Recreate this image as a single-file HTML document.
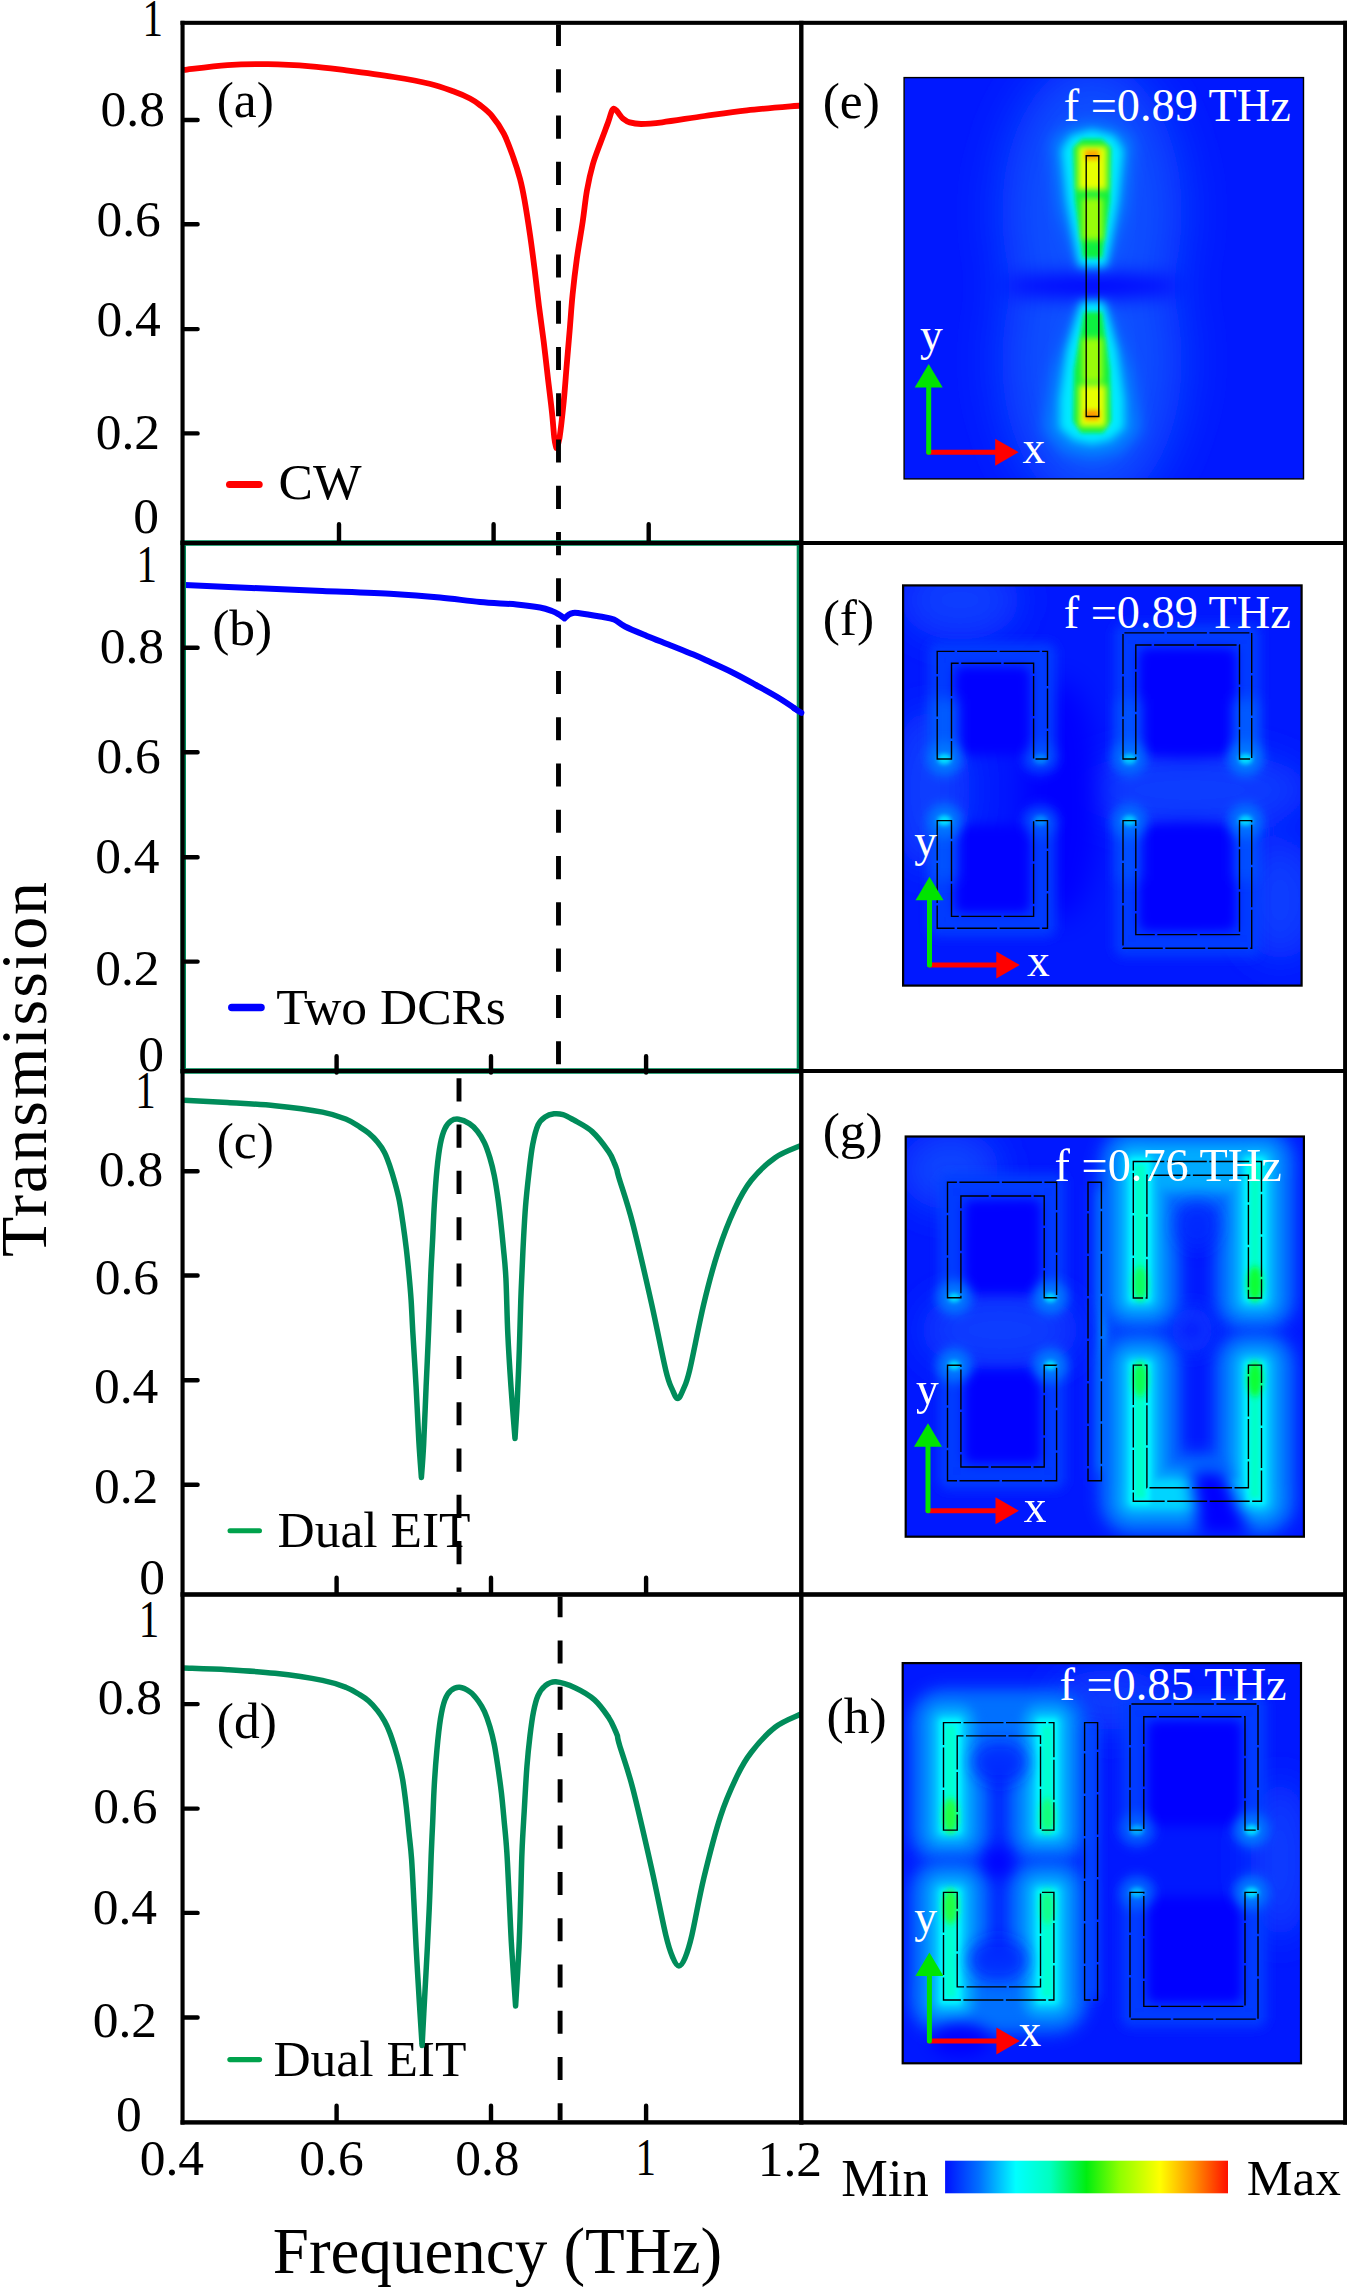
<!DOCTYPE html><html><head><meta charset="utf-8"><style>html,body{margin:0;padding:0;background:#fff;overflow:hidden}svg{display:block}</style></head><body>
<svg width="1347" height="2287" viewBox="0 0 1347 2287" font-family="Liberation Serif">
<rect width="1347" height="2287" fill="#fff"/>
<defs>
<filter id="be1" filterUnits="userSpaceOnUse" x="902.1" y="75.6" width="403.4" height="405.3"><feGaussianBlur stdDeviation="1"/></filter>
<filter id="be2" filterUnits="userSpaceOnUse" x="902.1" y="75.6" width="403.4" height="405.3"><feGaussianBlur stdDeviation="2"/></filter>
<filter id="be3" filterUnits="userSpaceOnUse" x="902.1" y="75.6" width="403.4" height="405.3"><feGaussianBlur stdDeviation="3"/></filter>
<filter id="be4" filterUnits="userSpaceOnUse" x="902.1" y="75.6" width="403.4" height="405.3"><feGaussianBlur stdDeviation="4"/></filter>
<filter id="be5" filterUnits="userSpaceOnUse" x="902.1" y="75.6" width="403.4" height="405.3"><feGaussianBlur stdDeviation="5"/></filter>
<filter id="be6" filterUnits="userSpaceOnUse" x="902.1" y="75.6" width="403.4" height="405.3"><feGaussianBlur stdDeviation="6"/></filter>
<filter id="be7" filterUnits="userSpaceOnUse" x="902.1" y="75.6" width="403.4" height="405.3"><feGaussianBlur stdDeviation="7"/></filter>
<filter id="be8" filterUnits="userSpaceOnUse" x="902.1" y="75.6" width="403.4" height="405.3"><feGaussianBlur stdDeviation="8"/></filter>
<filter id="be9" filterUnits="userSpaceOnUse" x="902.1" y="75.6" width="403.4" height="405.3"><feGaussianBlur stdDeviation="9"/></filter>
<filter id="be10" filterUnits="userSpaceOnUse" x="902.1" y="75.6" width="403.4" height="405.3"><feGaussianBlur stdDeviation="10"/></filter>
<filter id="be11" filterUnits="userSpaceOnUse" x="902.1" y="75.6" width="403.4" height="405.3"><feGaussianBlur stdDeviation="11"/></filter>
<filter id="be12" filterUnits="userSpaceOnUse" x="902.1" y="75.6" width="403.4" height="405.3"><feGaussianBlur stdDeviation="12"/></filter>
<filter id="be13" filterUnits="userSpaceOnUse" x="902.1" y="75.6" width="403.4" height="405.3"><feGaussianBlur stdDeviation="13"/></filter>
<filter id="be14" filterUnits="userSpaceOnUse" x="902.1" y="75.6" width="403.4" height="405.3"><feGaussianBlur stdDeviation="14"/></filter>
<filter id="be15" filterUnits="userSpaceOnUse" x="902.1" y="75.6" width="403.4" height="405.3"><feGaussianBlur stdDeviation="15"/></filter>
<filter id="be16" filterUnits="userSpaceOnUse" x="902.1" y="75.6" width="403.4" height="405.3"><feGaussianBlur stdDeviation="16"/></filter>
<filter id="be17" filterUnits="userSpaceOnUse" x="902.1" y="75.6" width="403.4" height="405.3"><feGaussianBlur stdDeviation="17"/></filter>
<filter id="be18" filterUnits="userSpaceOnUse" x="902.1" y="75.6" width="403.4" height="405.3"><feGaussianBlur stdDeviation="18"/></filter>
<filter id="be19" filterUnits="userSpaceOnUse" x="902.1" y="75.6" width="403.4" height="405.3"><feGaussianBlur stdDeviation="19"/></filter>
<filter id="be20" filterUnits="userSpaceOnUse" x="902.1" y="75.6" width="403.4" height="405.3"><feGaussianBlur stdDeviation="20"/></filter>
<filter id="be21" filterUnits="userSpaceOnUse" x="902.1" y="75.6" width="403.4" height="405.3"><feGaussianBlur stdDeviation="21"/></filter>
<filter id="be22" filterUnits="userSpaceOnUse" x="902.1" y="75.6" width="403.4" height="405.3"><feGaussianBlur stdDeviation="22"/></filter>
<filter id="be23" filterUnits="userSpaceOnUse" x="902.1" y="75.6" width="403.4" height="405.3"><feGaussianBlur stdDeviation="23"/></filter>
<filter id="be24" filterUnits="userSpaceOnUse" x="902.1" y="75.6" width="403.4" height="405.3"><feGaussianBlur stdDeviation="24"/></filter>
<filter id="be25" filterUnits="userSpaceOnUse" x="902.1" y="75.6" width="403.4" height="405.3"><feGaussianBlur stdDeviation="25"/></filter>
<filter id="be26" filterUnits="userSpaceOnUse" x="902.1" y="75.6" width="403.4" height="405.3"><feGaussianBlur stdDeviation="26"/></filter>
<filter id="be27" filterUnits="userSpaceOnUse" x="902.1" y="75.6" width="403.4" height="405.3"><feGaussianBlur stdDeviation="27"/></filter>
<filter id="be28" filterUnits="userSpaceOnUse" x="902.1" y="75.6" width="403.4" height="405.3"><feGaussianBlur stdDeviation="28"/></filter>
<filter id="be29" filterUnits="userSpaceOnUse" x="902.1" y="75.6" width="403.4" height="405.3"><feGaussianBlur stdDeviation="29"/></filter>
<filter id="be30" filterUnits="userSpaceOnUse" x="902.1" y="75.6" width="403.4" height="405.3"><feGaussianBlur stdDeviation="30"/></filter>
<filter id="bf1" filterUnits="userSpaceOnUse" x="901.1" y="583.4" width="402.5" height="404.2"><feGaussianBlur stdDeviation="1"/></filter>
<filter id="bf2" filterUnits="userSpaceOnUse" x="901.1" y="583.4" width="402.5" height="404.2"><feGaussianBlur stdDeviation="2"/></filter>
<filter id="bf3" filterUnits="userSpaceOnUse" x="901.1" y="583.4" width="402.5" height="404.2"><feGaussianBlur stdDeviation="3"/></filter>
<filter id="bf4" filterUnits="userSpaceOnUse" x="901.1" y="583.4" width="402.5" height="404.2"><feGaussianBlur stdDeviation="4"/></filter>
<filter id="bf5" filterUnits="userSpaceOnUse" x="901.1" y="583.4" width="402.5" height="404.2"><feGaussianBlur stdDeviation="5"/></filter>
<filter id="bf6" filterUnits="userSpaceOnUse" x="901.1" y="583.4" width="402.5" height="404.2"><feGaussianBlur stdDeviation="6"/></filter>
<filter id="bf7" filterUnits="userSpaceOnUse" x="901.1" y="583.4" width="402.5" height="404.2"><feGaussianBlur stdDeviation="7"/></filter>
<filter id="bf8" filterUnits="userSpaceOnUse" x="901.1" y="583.4" width="402.5" height="404.2"><feGaussianBlur stdDeviation="8"/></filter>
<filter id="bf9" filterUnits="userSpaceOnUse" x="901.1" y="583.4" width="402.5" height="404.2"><feGaussianBlur stdDeviation="9"/></filter>
<filter id="bf10" filterUnits="userSpaceOnUse" x="901.1" y="583.4" width="402.5" height="404.2"><feGaussianBlur stdDeviation="10"/></filter>
<filter id="bf11" filterUnits="userSpaceOnUse" x="901.1" y="583.4" width="402.5" height="404.2"><feGaussianBlur stdDeviation="11"/></filter>
<filter id="bf12" filterUnits="userSpaceOnUse" x="901.1" y="583.4" width="402.5" height="404.2"><feGaussianBlur stdDeviation="12"/></filter>
<filter id="bf13" filterUnits="userSpaceOnUse" x="901.1" y="583.4" width="402.5" height="404.2"><feGaussianBlur stdDeviation="13"/></filter>
<filter id="bf14" filterUnits="userSpaceOnUse" x="901.1" y="583.4" width="402.5" height="404.2"><feGaussianBlur stdDeviation="14"/></filter>
<filter id="bf15" filterUnits="userSpaceOnUse" x="901.1" y="583.4" width="402.5" height="404.2"><feGaussianBlur stdDeviation="15"/></filter>
<filter id="bf16" filterUnits="userSpaceOnUse" x="901.1" y="583.4" width="402.5" height="404.2"><feGaussianBlur stdDeviation="16"/></filter>
<filter id="bf17" filterUnits="userSpaceOnUse" x="901.1" y="583.4" width="402.5" height="404.2"><feGaussianBlur stdDeviation="17"/></filter>
<filter id="bf18" filterUnits="userSpaceOnUse" x="901.1" y="583.4" width="402.5" height="404.2"><feGaussianBlur stdDeviation="18"/></filter>
<filter id="bf19" filterUnits="userSpaceOnUse" x="901.1" y="583.4" width="402.5" height="404.2"><feGaussianBlur stdDeviation="19"/></filter>
<filter id="bf20" filterUnits="userSpaceOnUse" x="901.1" y="583.4" width="402.5" height="404.2"><feGaussianBlur stdDeviation="20"/></filter>
<filter id="bf21" filterUnits="userSpaceOnUse" x="901.1" y="583.4" width="402.5" height="404.2"><feGaussianBlur stdDeviation="21"/></filter>
<filter id="bf22" filterUnits="userSpaceOnUse" x="901.1" y="583.4" width="402.5" height="404.2"><feGaussianBlur stdDeviation="22"/></filter>
<filter id="bf23" filterUnits="userSpaceOnUse" x="901.1" y="583.4" width="402.5" height="404.2"><feGaussianBlur stdDeviation="23"/></filter>
<filter id="bf24" filterUnits="userSpaceOnUse" x="901.1" y="583.4" width="402.5" height="404.2"><feGaussianBlur stdDeviation="24"/></filter>
<filter id="bf25" filterUnits="userSpaceOnUse" x="901.1" y="583.4" width="402.5" height="404.2"><feGaussianBlur stdDeviation="25"/></filter>
<filter id="bf26" filterUnits="userSpaceOnUse" x="901.1" y="583.4" width="402.5" height="404.2"><feGaussianBlur stdDeviation="26"/></filter>
<filter id="bf27" filterUnits="userSpaceOnUse" x="901.1" y="583.4" width="402.5" height="404.2"><feGaussianBlur stdDeviation="27"/></filter>
<filter id="bf28" filterUnits="userSpaceOnUse" x="901.1" y="583.4" width="402.5" height="404.2"><feGaussianBlur stdDeviation="28"/></filter>
<filter id="bf29" filterUnits="userSpaceOnUse" x="901.1" y="583.4" width="402.5" height="404.2"><feGaussianBlur stdDeviation="29"/></filter>
<filter id="bf30" filterUnits="userSpaceOnUse" x="901.1" y="583.4" width="402.5" height="404.2"><feGaussianBlur stdDeviation="30"/></filter>
<filter id="bg1" filterUnits="userSpaceOnUse" x="903.7" y="1134.5" width="402.2" height="404.2"><feGaussianBlur stdDeviation="1"/></filter>
<filter id="bg2" filterUnits="userSpaceOnUse" x="903.7" y="1134.5" width="402.2" height="404.2"><feGaussianBlur stdDeviation="2"/></filter>
<filter id="bg3" filterUnits="userSpaceOnUse" x="903.7" y="1134.5" width="402.2" height="404.2"><feGaussianBlur stdDeviation="3"/></filter>
<filter id="bg4" filterUnits="userSpaceOnUse" x="903.7" y="1134.5" width="402.2" height="404.2"><feGaussianBlur stdDeviation="4"/></filter>
<filter id="bg5" filterUnits="userSpaceOnUse" x="903.7" y="1134.5" width="402.2" height="404.2"><feGaussianBlur stdDeviation="5"/></filter>
<filter id="bg6" filterUnits="userSpaceOnUse" x="903.7" y="1134.5" width="402.2" height="404.2"><feGaussianBlur stdDeviation="6"/></filter>
<filter id="bg7" filterUnits="userSpaceOnUse" x="903.7" y="1134.5" width="402.2" height="404.2"><feGaussianBlur stdDeviation="7"/></filter>
<filter id="bg8" filterUnits="userSpaceOnUse" x="903.7" y="1134.5" width="402.2" height="404.2"><feGaussianBlur stdDeviation="8"/></filter>
<filter id="bg9" filterUnits="userSpaceOnUse" x="903.7" y="1134.5" width="402.2" height="404.2"><feGaussianBlur stdDeviation="9"/></filter>
<filter id="bg10" filterUnits="userSpaceOnUse" x="903.7" y="1134.5" width="402.2" height="404.2"><feGaussianBlur stdDeviation="10"/></filter>
<filter id="bg11" filterUnits="userSpaceOnUse" x="903.7" y="1134.5" width="402.2" height="404.2"><feGaussianBlur stdDeviation="11"/></filter>
<filter id="bg12" filterUnits="userSpaceOnUse" x="903.7" y="1134.5" width="402.2" height="404.2"><feGaussianBlur stdDeviation="12"/></filter>
<filter id="bg13" filterUnits="userSpaceOnUse" x="903.7" y="1134.5" width="402.2" height="404.2"><feGaussianBlur stdDeviation="13"/></filter>
<filter id="bg14" filterUnits="userSpaceOnUse" x="903.7" y="1134.5" width="402.2" height="404.2"><feGaussianBlur stdDeviation="14"/></filter>
<filter id="bg15" filterUnits="userSpaceOnUse" x="903.7" y="1134.5" width="402.2" height="404.2"><feGaussianBlur stdDeviation="15"/></filter>
<filter id="bg16" filterUnits="userSpaceOnUse" x="903.7" y="1134.5" width="402.2" height="404.2"><feGaussianBlur stdDeviation="16"/></filter>
<filter id="bg17" filterUnits="userSpaceOnUse" x="903.7" y="1134.5" width="402.2" height="404.2"><feGaussianBlur stdDeviation="17"/></filter>
<filter id="bg18" filterUnits="userSpaceOnUse" x="903.7" y="1134.5" width="402.2" height="404.2"><feGaussianBlur stdDeviation="18"/></filter>
<filter id="bg19" filterUnits="userSpaceOnUse" x="903.7" y="1134.5" width="402.2" height="404.2"><feGaussianBlur stdDeviation="19"/></filter>
<filter id="bg20" filterUnits="userSpaceOnUse" x="903.7" y="1134.5" width="402.2" height="404.2"><feGaussianBlur stdDeviation="20"/></filter>
<filter id="bg21" filterUnits="userSpaceOnUse" x="903.7" y="1134.5" width="402.2" height="404.2"><feGaussianBlur stdDeviation="21"/></filter>
<filter id="bg22" filterUnits="userSpaceOnUse" x="903.7" y="1134.5" width="402.2" height="404.2"><feGaussianBlur stdDeviation="22"/></filter>
<filter id="bg23" filterUnits="userSpaceOnUse" x="903.7" y="1134.5" width="402.2" height="404.2"><feGaussianBlur stdDeviation="23"/></filter>
<filter id="bg24" filterUnits="userSpaceOnUse" x="903.7" y="1134.5" width="402.2" height="404.2"><feGaussianBlur stdDeviation="24"/></filter>
<filter id="bg25" filterUnits="userSpaceOnUse" x="903.7" y="1134.5" width="402.2" height="404.2"><feGaussianBlur stdDeviation="25"/></filter>
<filter id="bg26" filterUnits="userSpaceOnUse" x="903.7" y="1134.5" width="402.2" height="404.2"><feGaussianBlur stdDeviation="26"/></filter>
<filter id="bg27" filterUnits="userSpaceOnUse" x="903.7" y="1134.5" width="402.2" height="404.2"><feGaussianBlur stdDeviation="27"/></filter>
<filter id="bg28" filterUnits="userSpaceOnUse" x="903.7" y="1134.5" width="402.2" height="404.2"><feGaussianBlur stdDeviation="28"/></filter>
<filter id="bg29" filterUnits="userSpaceOnUse" x="903.7" y="1134.5" width="402.2" height="404.2"><feGaussianBlur stdDeviation="29"/></filter>
<filter id="bg30" filterUnits="userSpaceOnUse" x="903.7" y="1134.5" width="402.2" height="404.2"><feGaussianBlur stdDeviation="30"/></filter>
<filter id="bh1" filterUnits="userSpaceOnUse" x="900.7" y="1661.1" width="402.3" height="404.2"><feGaussianBlur stdDeviation="1"/></filter>
<filter id="bh2" filterUnits="userSpaceOnUse" x="900.7" y="1661.1" width="402.3" height="404.2"><feGaussianBlur stdDeviation="2"/></filter>
<filter id="bh3" filterUnits="userSpaceOnUse" x="900.7" y="1661.1" width="402.3" height="404.2"><feGaussianBlur stdDeviation="3"/></filter>
<filter id="bh4" filterUnits="userSpaceOnUse" x="900.7" y="1661.1" width="402.3" height="404.2"><feGaussianBlur stdDeviation="4"/></filter>
<filter id="bh5" filterUnits="userSpaceOnUse" x="900.7" y="1661.1" width="402.3" height="404.2"><feGaussianBlur stdDeviation="5"/></filter>
<filter id="bh6" filterUnits="userSpaceOnUse" x="900.7" y="1661.1" width="402.3" height="404.2"><feGaussianBlur stdDeviation="6"/></filter>
<filter id="bh7" filterUnits="userSpaceOnUse" x="900.7" y="1661.1" width="402.3" height="404.2"><feGaussianBlur stdDeviation="7"/></filter>
<filter id="bh8" filterUnits="userSpaceOnUse" x="900.7" y="1661.1" width="402.3" height="404.2"><feGaussianBlur stdDeviation="8"/></filter>
<filter id="bh9" filterUnits="userSpaceOnUse" x="900.7" y="1661.1" width="402.3" height="404.2"><feGaussianBlur stdDeviation="9"/></filter>
<filter id="bh10" filterUnits="userSpaceOnUse" x="900.7" y="1661.1" width="402.3" height="404.2"><feGaussianBlur stdDeviation="10"/></filter>
<filter id="bh11" filterUnits="userSpaceOnUse" x="900.7" y="1661.1" width="402.3" height="404.2"><feGaussianBlur stdDeviation="11"/></filter>
<filter id="bh12" filterUnits="userSpaceOnUse" x="900.7" y="1661.1" width="402.3" height="404.2"><feGaussianBlur stdDeviation="12"/></filter>
<filter id="bh13" filterUnits="userSpaceOnUse" x="900.7" y="1661.1" width="402.3" height="404.2"><feGaussianBlur stdDeviation="13"/></filter>
<filter id="bh14" filterUnits="userSpaceOnUse" x="900.7" y="1661.1" width="402.3" height="404.2"><feGaussianBlur stdDeviation="14"/></filter>
<filter id="bh15" filterUnits="userSpaceOnUse" x="900.7" y="1661.1" width="402.3" height="404.2"><feGaussianBlur stdDeviation="15"/></filter>
<filter id="bh16" filterUnits="userSpaceOnUse" x="900.7" y="1661.1" width="402.3" height="404.2"><feGaussianBlur stdDeviation="16"/></filter>
<filter id="bh17" filterUnits="userSpaceOnUse" x="900.7" y="1661.1" width="402.3" height="404.2"><feGaussianBlur stdDeviation="17"/></filter>
<filter id="bh18" filterUnits="userSpaceOnUse" x="900.7" y="1661.1" width="402.3" height="404.2"><feGaussianBlur stdDeviation="18"/></filter>
<filter id="bh19" filterUnits="userSpaceOnUse" x="900.7" y="1661.1" width="402.3" height="404.2"><feGaussianBlur stdDeviation="19"/></filter>
<filter id="bh20" filterUnits="userSpaceOnUse" x="900.7" y="1661.1" width="402.3" height="404.2"><feGaussianBlur stdDeviation="20"/></filter>
<filter id="bh21" filterUnits="userSpaceOnUse" x="900.7" y="1661.1" width="402.3" height="404.2"><feGaussianBlur stdDeviation="21"/></filter>
<filter id="bh22" filterUnits="userSpaceOnUse" x="900.7" y="1661.1" width="402.3" height="404.2"><feGaussianBlur stdDeviation="22"/></filter>
<filter id="bh23" filterUnits="userSpaceOnUse" x="900.7" y="1661.1" width="402.3" height="404.2"><feGaussianBlur stdDeviation="23"/></filter>
<filter id="bh24" filterUnits="userSpaceOnUse" x="900.7" y="1661.1" width="402.3" height="404.2"><feGaussianBlur stdDeviation="24"/></filter>
<filter id="bh25" filterUnits="userSpaceOnUse" x="900.7" y="1661.1" width="402.3" height="404.2"><feGaussianBlur stdDeviation="25"/></filter>
<filter id="bh26" filterUnits="userSpaceOnUse" x="900.7" y="1661.1" width="402.3" height="404.2"><feGaussianBlur stdDeviation="26"/></filter>
<filter id="bh27" filterUnits="userSpaceOnUse" x="900.7" y="1661.1" width="402.3" height="404.2"><feGaussianBlur stdDeviation="27"/></filter>
<filter id="bh28" filterUnits="userSpaceOnUse" x="900.7" y="1661.1" width="402.3" height="404.2"><feGaussianBlur stdDeviation="28"/></filter>
<filter id="bh29" filterUnits="userSpaceOnUse" x="900.7" y="1661.1" width="402.3" height="404.2"><feGaussianBlur stdDeviation="29"/></filter>
<filter id="bh30" filterUnits="userSpaceOnUse" x="900.7" y="1661.1" width="402.3" height="404.2"><feGaussianBlur stdDeviation="30"/></filter>
<clipPath id="ce"><rect x="904.1" y="77.6" width="399.4" height="401.3"/></clipPath>
<clipPath id="cf"><rect x="903.1" y="585.4" width="398.5" height="400.2"/></clipPath>
<clipPath id="cg"><rect x="905.7" y="1136.5" width="398.2" height="400.2"/></clipPath>
<clipPath id="ch"><rect x="902.7" y="1663.1" width="398.3" height="400.2"/></clipPath>
</defs>
<g clip-path="url(#ce)">
<rect x="904.1" y="77.6" width="399.4" height="401.3" fill="#0018ff"/>
<g filter="url(#be25)">
<ellipse cx="1092" cy="212" rx="90" ry="150" fill="#0a50ff"/>
<ellipse cx="1092" cy="360" rx="90" ry="150" fill="#0a50ff"/>
</g>
<g filter="url(#be10)">
<ellipse cx="1092" cy="286" rx="88" ry="12" fill="#0000ff"/>
</g>
<g filter="url(#be8)">
<polygon points="1052,140 1070,128 1092,124 1114,128 1132,140 1124,210 1106,266 1080,266 1060,210" fill="#0088ff"/>
<polygon points="1080,306 1106,306 1130,370 1140,430 1120,452 1092,458 1064,452 1044,430 1054,370" fill="#0088ff"/>
</g>
<g filter="url(#be4)">
<polygon points="1062,150 1071,136 1092,130 1114,136 1123,150 1118,200 1106,266 1079,266 1067,200" fill="#00eaff"/>
<polygon points="1081,302 1104,302 1117,350 1124,400 1124,428 1110,440 1092,444 1074,440 1060,428 1060,400 1067,350" fill="#00eaff"/>
</g>
<g filter="url(#be2)">
<polygon points="1073,148 1082,139 1102,139 1111,148 1110,200 1102,258 1083,258 1075,200" fill="#10f040"/>
<polygon points="1084,312 1102,312 1110,370 1111,421 1103,433 1081,433 1073,421 1074,370" fill="#10f040"/>
</g>
<g filter="url(#be3)">
<rect x="1078" y="146" width="29" height="44" fill="#e8ff00"/>
<rect x="1079" y="385" width="27" height="42" fill="#e8ff00"/>
<rect x="1082" y="198" width="21" height="42" fill="#b0ff00" opacity="0.85"/>
<rect x="1082" y="338" width="21" height="44" fill="#b0ff00" opacity="0.85"/>
</g>
<g filter="url(#be2)">
<rect x="1085" y="150" width="14" height="10" fill="#ffa000" opacity="0.9"/>
<rect x="1085" y="410" width="14" height="10" fill="#ff9000" opacity="0.9"/>
</g>
<path d="M1086.2,155.8 L1098.8,155.8 L1098.8,416.5 L1086.2,416.5 Z" fill="none" stroke="#000" stroke-width="1.4"/>
</g>
<rect x="904.1" y="77.6" width="399.4" height="401.3" fill="none" stroke="#000" stroke-width="1.4"/>
<text x="1063.7" y="120.7" font-size="46.3" fill="#fff">f =0.89 THz</text>
<path d="M928.7,452.2 H998.6" stroke="#ff0000" stroke-width="5" stroke-linecap="round"/>
<polygon points="995.2,438.7 1018.6,452.2 995.2,465.7" fill="#ff0000"/>
<path d="M928.7,452.2 V384" stroke="#00e400" stroke-width="5" stroke-linecap="round"/>
<polygon points="914.7,387.5 928.7,364 942.7,387.5" fill="#00e400"/>
<text x="920.05" y="349.67" font-size="45.5" fill="#fff" >y</text>
<text x="1022.59" y="463.1" font-size="45.5" fill="#fff" >x</text>
<g clip-path="url(#cf)">
<rect x="903.1" y="585.4" width="398.5" height="400.2" fill="#0018ff"/>
<g filter="url(#bf18)">
<ellipse cx="960" cy="600" rx="60" ry="40" fill="#0a3cff"/>
<ellipse cx="1190" cy="790" rx="120" ry="40" fill="#0a3cff"/>
<ellipse cx="930" cy="790" rx="40" ry="80" fill="#0a3cff"/>
<ellipse cx="1280" cy="900" rx="40" ry="60" fill="#0a3cff"/>
</g>
<g filter="url(#bf14)">
<ellipse cx="1060" cy="800" rx="40" ry="120" fill="#0000ff"/>
<ellipse cx="1187" cy="700" rx="45" ry="50" fill="#0000ff"/>
<ellipse cx="1187" cy="880" rx="45" ry="50" fill="#0000ff"/>
</g>
<g filter="url(#bf6)">
<polygon points="937.2,759 937.2,651.4 1047.5,651.4 1047.5,759 1033.6,759 1033.6,663.3 951.5,663.3 951.5,759" fill="none" stroke="#0040ff" stroke-width="16" stroke-linejoin="round"/>
<polygon points="937.2,759 937.2,651.4 1047.5,651.4 1047.5,759 1033.6,759 1033.6,663.3 951.5,663.3 951.5,759" fill="#0038ff"/>
</g>
<g filter="url(#bf6)">
<rect x="955.5" y="667.3" width="74.1" height="87.7" fill="#0000ff"/>
</g>
<g filter="url(#bf7)">
<rect x="931.2" y="699" width="26.3" height="60" fill="#0064ff" opacity="0.8"/>
</g>
<g filter="url(#bf6)">
<ellipse cx="944.35" cy="759" rx="17" ry="17" fill="#0078ff"/>
<ellipse cx="1040.55" cy="759" rx="17" ry="17" fill="#0078ff" opacity="0.35"/>
</g>
<g filter="url(#bf2)">
<ellipse cx="944.35" cy="759" rx="7" ry="5.25" fill="#00e0ff"/>
<ellipse cx="1040.55" cy="759" rx="7" ry="5.25" fill="#00e0ff" opacity="0.35"/>
</g>
<g filter="url(#bf6)">
<polygon points="937.2,820.6 937.2,928.2 1047.5,928.2 1047.5,820.6 1033.6,820.6 1033.6,916.4 951.5,916.4 951.5,820.6" fill="none" stroke="#0040ff" stroke-width="16" stroke-linejoin="round"/>
<polygon points="937.2,820.6 937.2,928.2 1047.5,928.2 1047.5,820.6 1033.6,820.6 1033.6,916.4 951.5,916.4 951.5,820.6" fill="#0038ff"/>
</g>
<g filter="url(#bf6)">
<rect x="955.5" y="824.6" width="74.1" height="87.8" fill="#0000ff"/>
</g>
<g filter="url(#bf7)">
<rect x="931.2" y="820.6" width="26.3" height="60" fill="#0064ff" opacity="0.6"/>
</g>
<g filter="url(#bf6)">
<ellipse cx="944.35" cy="820.6" rx="17" ry="17" fill="#0078ff"/>
<ellipse cx="1040.55" cy="820.6" rx="17" ry="17" fill="#0078ff" opacity="0.4"/>
</g>
<g filter="url(#bf2)">
<ellipse cx="944.35" cy="820.6" rx="7" ry="5.25" fill="#00e0ff"/>
<ellipse cx="1040.55" cy="820.6" rx="7" ry="5.25" fill="#00e0ff" opacity="0.4"/>
</g>
<g filter="url(#bf6)">
<polygon points="1123,759 1123,632.9 1251.7,632.9 1251.7,759 1239.5,759 1239.5,645 1135.8,645 1135.8,759" fill="none" stroke="#0040ff" stroke-width="16" stroke-linejoin="round"/>
<polygon points="1123,759 1123,632.9 1251.7,632.9 1251.7,759 1239.5,759 1239.5,645 1135.8,645 1135.8,759" fill="#0038ff"/>
</g>
<g filter="url(#bf6)">
<rect x="1139.8" y="649" width="95.7" height="106" fill="#0000ff"/>
</g>
<g filter="url(#bf7)">
<rect x="1117" y="699" width="24.8" height="60" fill="#0064ff" opacity="0.6"/>
<rect x="1233.5" y="699" width="24.2" height="60" fill="#0064ff" opacity="0.8"/>
</g>
<g filter="url(#bf6)">
<ellipse cx="1129.4" cy="759" rx="17" ry="17" fill="#0078ff" opacity="0.8"/>
<ellipse cx="1245.6" cy="759" rx="17" ry="17" fill="#0078ff"/>
</g>
<g filter="url(#bf2)">
<ellipse cx="1129.4" cy="759" rx="7" ry="5.25" fill="#00e0ff" opacity="0.8"/>
<ellipse cx="1245.6" cy="759" rx="7" ry="5.25" fill="#00e0ff"/>
</g>
<g filter="url(#bf6)">
<polygon points="1123,820.6 1123,948.3 1251.7,948.3 1251.7,820.6 1239.5,820.6 1239.5,934.6 1135.8,934.6 1135.8,820.6" fill="none" stroke="#0040ff" stroke-width="16" stroke-linejoin="round"/>
<polygon points="1123,820.6 1123,948.3 1251.7,948.3 1251.7,820.6 1239.5,820.6 1239.5,934.6 1135.8,934.6 1135.8,820.6" fill="#0038ff"/>
</g>
<g filter="url(#bf6)">
<rect x="1139.8" y="824.6" width="95.7" height="106" fill="#0000ff"/>
</g>
<g filter="url(#bf7)">
<rect x="1117" y="820.6" width="24.8" height="60" fill="#0064ff" opacity="0.5"/>
<rect x="1233.5" y="820.6" width="24.2" height="60" fill="#0064ff" opacity="0.5"/>
</g>
<g filter="url(#bf6)">
<ellipse cx="1129.4" cy="820.6" rx="17" ry="17" fill="#0078ff" opacity="0.8"/>
<ellipse cx="1245.6" cy="820.6" rx="17" ry="17" fill="#0078ff" opacity="0.9"/>
</g>
<g filter="url(#bf2)">
<ellipse cx="1129.4" cy="820.6" rx="7" ry="5.25" fill="#00e0ff" opacity="0.8"/>
<ellipse cx="1245.6" cy="820.6" rx="7" ry="5.25" fill="#00e0ff" opacity="0.9"/>
</g>
<path d="M937.2,759 L937.2,651.4 L1047.5,651.4 L1047.5,759 L1033.6,759 L1033.6,663.3 L951.5,663.3 L951.5,759 Z" fill="none" stroke="#000" stroke-width="1.4" stroke-dasharray="40 2.5"/>
<path d="M937.2,820.6 L937.2,928.2 L1047.5,928.2 L1047.5,820.6 L1033.6,820.6 L1033.6,916.4 L951.5,916.4 L951.5,820.6 Z" fill="none" stroke="#000" stroke-width="1.4" stroke-dasharray="40 2.5"/>
<path d="M1123,759 L1123,632.9 L1251.7,632.9 L1251.7,759 L1239.5,759 L1239.5,645 L1135.8,645 L1135.8,759 Z" fill="none" stroke="#000" stroke-width="1.4" stroke-dasharray="40 2.5"/>
<path d="M1123,820.6 L1123,948.3 L1251.7,948.3 L1251.7,820.6 L1239.5,820.6 L1239.5,934.6 L1135.8,934.6 L1135.8,820.6 Z" fill="none" stroke="#000" stroke-width="1.4" stroke-dasharray="40 2.5"/>
</g>
<rect x="903.1" y="585.4" width="398.5" height="400.2" fill="none" stroke="#000" stroke-width="2.2"/>
<text x="1063.7" y="628" font-size="46.3" fill="#fff">f =0.89 THz</text>
<path d="M929.5,965 H999.7" stroke="#ff0000" stroke-width="5" stroke-linecap="round"/>
<polygon points="996.3,951.5 1019.7,965 996.3,978.5" fill="#ff0000"/>
<path d="M929.5,965 V896.8" stroke="#00e400" stroke-width="5" stroke-linecap="round"/>
<polygon points="915.5,900.3 929.5,876.8 943.5,900.3" fill="#00e400"/>
<text x="914.25" y="856.37" font-size="45.5" fill="#fff" >y</text>
<text x="1027.09" y="975.8" font-size="45.5" fill="#fff" >x</text>
<g clip-path="url(#cg)">
<rect x="905.7" y="1136.5" width="398.2" height="400.2" fill="#0018ff"/>
<g filter="url(#bg18)">
<ellipse cx="950" cy="1170" rx="50" ry="40" fill="#0a44ff"/>
<ellipse cx="1000" cy="1330" rx="80" ry="40" fill="#0a3cff"/>
</g>
<g filter="url(#bg10)">
<ellipse cx="1192" cy="1330" rx="20" ry="22" fill="#0a40ff"/>
<rect x="1100" y="1185" width="12" height="293" fill="#0a70ff"/>
</g>
<g filter="url(#bg4)">
<rect x="1100" y="1190" width="6" height="280" fill="#00c0ff" opacity="0.8"/>
</g>
<g filter="url(#bg6)">
<polygon points="947.5,1297.8 947.5,1182.2 1056.6,1182.2 1056.6,1297.8 1044.2,1297.8 1044.2,1196 960.9,1196 960.9,1297.8" fill="none" stroke="#0040ff" stroke-width="16" stroke-linejoin="round"/>
<polygon points="947.5,1297.8 947.5,1182.2 1056.6,1182.2 1056.6,1297.8 1044.2,1297.8 1044.2,1196 960.9,1196 960.9,1297.8" fill="#0038ff"/>
</g>
<g filter="url(#bg6)">
<rect x="964.9" y="1200" width="75.3" height="93.8" fill="#0000ff"/>
</g>
<g filter="url(#bg6)">
<ellipse cx="954.2" cy="1297.8" rx="17" ry="17" fill="#0078ff"/>
<ellipse cx="1050.4" cy="1297.8" rx="17" ry="17" fill="#0078ff"/>
</g>
<g filter="url(#bg2)">
<ellipse cx="954.2" cy="1297.8" rx="6" ry="4.5" fill="#00e0ff"/>
<ellipse cx="1050.4" cy="1297.8" rx="6" ry="4.5" fill="#00e0ff"/>
</g>
<g filter="url(#bg6)">
<polygon points="947.5,1365.2 947.5,1480.7 1056.6,1480.7 1056.6,1365.2 1044.2,1365.2 1044.2,1467 960.9,1467 960.9,1365.2" fill="none" stroke="#0040ff" stroke-width="16" stroke-linejoin="round"/>
<polygon points="947.5,1365.2 947.5,1480.7 1056.6,1480.7 1056.6,1365.2 1044.2,1365.2 1044.2,1467 960.9,1467 960.9,1365.2" fill="#0038ff"/>
</g>
<g filter="url(#bg6)">
<rect x="964.9" y="1369.2" width="75.3" height="93.8" fill="#0000ff"/>
</g>
<g filter="url(#bg6)">
<ellipse cx="954.2" cy="1365.2" rx="17" ry="17" fill="#0078ff"/>
<ellipse cx="1050.4" cy="1365.2" rx="17" ry="17" fill="#0078ff"/>
</g>
<g filter="url(#bg2)">
<ellipse cx="954.2" cy="1365.2" rx="6" ry="4.5" fill="#00e0ff"/>
<ellipse cx="1050.4" cy="1365.2" rx="6" ry="4.5" fill="#00e0ff"/>
</g>
<g filter="url(#bg8)">
<rect x="1133.3" y="1161.5" width="13.6" height="136.5" fill="#0058ff" stroke="#0058ff" stroke-width="70" stroke-linejoin="round"/>
<rect x="1248.4" y="1161.5" width="13.1" height="136.5" fill="#0058ff" stroke="#0058ff" stroke-width="70" stroke-linejoin="round"/>
<rect x="1133.3" y="1161.5" width="128.2" height="13.8" fill="#0058ff" stroke="#0058ff" stroke-width="70" stroke-linejoin="round"/>
</g>
<g filter="url(#bg6)">
<rect x="1133.3" y="1161.5" width="13.6" height="136.5" fill="#0070ff" stroke="#0070ff" stroke-width="54" stroke-linejoin="round"/>
<rect x="1248.4" y="1161.5" width="13.1" height="136.5" fill="#0070ff" stroke="#0070ff" stroke-width="54" stroke-linejoin="round"/>
<rect x="1133.3" y="1161.5" width="128.2" height="13.8" fill="#0070ff" stroke="#0070ff" stroke-width="54" stroke-linejoin="round"/>
</g>
<g filter="url(#bg5)">
<rect x="1133.3" y="1161.5" width="13.6" height="136.5" fill="#008cff" stroke="#008cff" stroke-width="40" stroke-linejoin="round"/>
<rect x="1248.4" y="1161.5" width="13.1" height="136.5" fill="#008cff" stroke="#008cff" stroke-width="40" stroke-linejoin="round"/>
<rect x="1133.3" y="1161.5" width="128.2" height="13.8" fill="#008cff" stroke="#008cff" stroke-width="40" stroke-linejoin="round"/>
</g>
<g filter="url(#bg4)">
<rect x="1133.3" y="1161.5" width="13.6" height="136.5" fill="#00aaff" stroke="#00aaff" stroke-width="28" stroke-linejoin="round"/>
<rect x="1248.4" y="1161.5" width="13.1" height="136.5" fill="#00aaff" stroke="#00aaff" stroke-width="28" stroke-linejoin="round"/>
<rect x="1133.3" y="1161.5" width="128.2" height="13.8" fill="#00aaff" stroke="#00aaff" stroke-width="28" stroke-linejoin="round"/>
</g>
<g filter="url(#bg3)">
<rect x="1133.3" y="1161.5" width="13.6" height="136.5" fill="#00d4ff" stroke="#00d4ff" stroke-width="16" stroke-linejoin="round"/>
<rect x="1248.4" y="1161.5" width="13.1" height="136.5" fill="#00d4ff" stroke="#00d4ff" stroke-width="16" stroke-linejoin="round"/>
</g>
<g filter="url(#bg2)">
<rect x="1133.3" y="1161.5" width="13.6" height="136.5" fill="#00f8ff" stroke="#00f8ff" stroke-width="7" stroke-linejoin="round"/>
<rect x="1248.4" y="1161.5" width="13.1" height="136.5" fill="#00f8ff" stroke="#00f8ff" stroke-width="7" stroke-linejoin="round"/>
</g>
<g filter="url(#bg2)">
<rect x="1134.8" y="1164.5" width="10.6" height="130.5" fill="#00ffc8"/>
<rect x="1249.9" y="1164.5" width="10.1" height="130.5" fill="#00ffc8"/>
</g>
<g filter="url(#bg3)">
<ellipse cx="1140.1" cy="1284" rx="7.5" ry="18" fill="#10ff30" opacity="0.7"/>
<ellipse cx="1254.95" cy="1284" rx="7.5" ry="18" fill="#10ff30"/>
</g>
<g filter="url(#bg8)">
<rect x="1133.3" y="1365.1" width="13.6" height="136.1" fill="#0058ff" stroke="#0058ff" stroke-width="70" stroke-linejoin="round"/>
<rect x="1248.4" y="1365.1" width="13.1" height="136.1" fill="#0058ff" stroke="#0058ff" stroke-width="70" stroke-linejoin="round"/>
<rect x="1133.3" y="1487.7" width="128.2" height="13.5" fill="#0058ff" stroke="#0058ff" stroke-width="70" stroke-linejoin="round"/>
</g>
<g filter="url(#bg6)">
<rect x="1133.3" y="1365.1" width="13.6" height="136.1" fill="#0070ff" stroke="#0070ff" stroke-width="54" stroke-linejoin="round"/>
<rect x="1248.4" y="1365.1" width="13.1" height="136.1" fill="#0070ff" stroke="#0070ff" stroke-width="54" stroke-linejoin="round"/>
<rect x="1133.3" y="1487.7" width="128.2" height="13.5" fill="#0070ff" stroke="#0070ff" stroke-width="54" stroke-linejoin="round"/>
</g>
<g filter="url(#bg5)">
<rect x="1133.3" y="1365.1" width="13.6" height="136.1" fill="#008cff" stroke="#008cff" stroke-width="40" stroke-linejoin="round"/>
<rect x="1248.4" y="1365.1" width="13.1" height="136.1" fill="#008cff" stroke="#008cff" stroke-width="40" stroke-linejoin="round"/>
<rect x="1133.3" y="1487.7" width="128.2" height="13.5" fill="#008cff" stroke="#008cff" stroke-width="40" stroke-linejoin="round"/>
</g>
<g filter="url(#bg4)">
<rect x="1133.3" y="1365.1" width="13.6" height="136.1" fill="#00aaff" stroke="#00aaff" stroke-width="28" stroke-linejoin="round"/>
<rect x="1248.4" y="1365.1" width="13.1" height="136.1" fill="#00aaff" stroke="#00aaff" stroke-width="28" stroke-linejoin="round"/>
<rect x="1133.3" y="1487.7" width="128.2" height="13.5" fill="#00aaff" stroke="#00aaff" stroke-width="28" stroke-linejoin="round"/>
</g>
<g filter="url(#bg3)">
<rect x="1133.3" y="1365.1" width="13.6" height="136.1" fill="#00d4ff" stroke="#00d4ff" stroke-width="16" stroke-linejoin="round"/>
<rect x="1248.4" y="1365.1" width="13.1" height="136.1" fill="#00d4ff" stroke="#00d4ff" stroke-width="16" stroke-linejoin="round"/>
<rect x="1133.3" y="1487.7" width="128.2" height="13.5" fill="#00d4ff" stroke="#00d4ff" stroke-width="16" stroke-linejoin="round"/>
</g>
<g filter="url(#bg2)">
<rect x="1133.3" y="1365.1" width="13.6" height="136.1" fill="#00f8ff" stroke="#00f8ff" stroke-width="7" stroke-linejoin="round"/>
<rect x="1248.4" y="1365.1" width="13.1" height="136.1" fill="#00f8ff" stroke="#00f8ff" stroke-width="7" stroke-linejoin="round"/>
</g>
<g filter="url(#bg2)">
<rect x="1134.8" y="1368.1" width="10.6" height="130.1" fill="#00ffc8"/>
<rect x="1249.9" y="1368.1" width="10.1" height="130.1" fill="#00ffc8"/>
</g>
<g filter="url(#bg3)">
<ellipse cx="1140.1" cy="1379.1" rx="7.5" ry="18" fill="#10ff30" opacity="0.8"/>
<ellipse cx="1254.95" cy="1379.1" rx="7.5" ry="18" fill="#10ff30"/>
</g>
<g filter="url(#bg8)">
<polygon points="1190,1470 1225,1470 1250,1537 1200,1537" fill="#0000ff"/>
<ellipse cx="1197" cy="1225" rx="22" ry="25" fill="#0030ff" opacity="0.7"/>
<ellipse cx="1192" cy="1330" rx="8" ry="8" fill="#0000ff"/>
</g>
<path d="M947.5,1297.8 L947.5,1182.2 L1056.6,1182.2 L1056.6,1297.8 L1044.2,1297.8 L1044.2,1196 L960.9,1196 L960.9,1297.8 Z" fill="none" stroke="#000" stroke-width="1.4" stroke-dasharray="40 2.5"/>
<path d="M947.5,1365.2 L947.5,1480.7 L1056.6,1480.7 L1056.6,1365.2 L1044.2,1365.2 L1044.2,1467 L960.9,1467 L960.9,1365.2 Z" fill="none" stroke="#000" stroke-width="1.4" stroke-dasharray="40 2.5"/>
<path d="M1133.3,1298 L1133.3,1161.5 L1261.5,1161.5 L1261.5,1298 L1248.4,1298 L1248.4,1175.3 L1146.9,1175.3 L1146.9,1298 Z" fill="none" stroke="#000" stroke-width="1.4" stroke-dasharray="40 2.5"/>
<path d="M1133.3,1365.1 L1133.3,1501.2 L1261.5,1501.2 L1261.5,1365.1 L1248.4,1365.1 L1248.4,1487.7 L1146.9,1487.7 L1146.9,1365.1 Z" fill="none" stroke="#000" stroke-width="1.4" stroke-dasharray="40 2.5"/>
<path d="M1088,1182.2 L1101.4,1182.2 L1101.4,1480.7 L1088,1480.7 Z" fill="none" stroke="#000" stroke-width="1.4" stroke-dasharray="40 2.5"/>
</g>
<rect x="905.7" y="1136.5" width="398.2" height="400.2" fill="none" stroke="#000" stroke-width="2.2"/>
<text x="1054.6" y="1180.7" font-size="46.3" fill="#fff">f =0.76 THz</text>
<path d="M928,1510.7 H998.9" stroke="#ff0000" stroke-width="5" stroke-linecap="round"/>
<polygon points="995.5,1497.2 1018.9,1510.7 995.5,1524.2" fill="#ff0000"/>
<path d="M928,1510.7 V1443.3" stroke="#00e400" stroke-width="5" stroke-linecap="round"/>
<polygon points="914,1446.8 928,1423.3 942,1446.8" fill="#00e400"/>
<text x="916.05" y="1403.77" font-size="45.5" fill="#fff" >y</text>
<text x="1023.69" y="1522.1" font-size="45.5" fill="#fff" >x</text>
<g clip-path="url(#ch)">
<rect x="902.7" y="1663.1" width="398.3" height="400.2" fill="#0018ff"/>
<g filter="url(#bh18)">
<ellipse cx="1280" cy="1860" rx="30" ry="80" fill="#0a3cff"/>
<ellipse cx="1110" cy="1700" rx="60" ry="30" fill="#0a3cff"/>
</g>
<g filter="url(#bh8)">
<rect x="943.5" y="1722.6" width="13.7" height="107.5" fill="#0058ff" stroke="#0058ff" stroke-width="70" stroke-linejoin="round"/>
<rect x="1040.5" y="1722.6" width="13.4" height="107.5" fill="#0058ff" stroke="#0058ff" stroke-width="70" stroke-linejoin="round"/>
<rect x="943.5" y="1722.6" width="110.4" height="13.3" fill="#0058ff" stroke="#0058ff" stroke-width="70" stroke-linejoin="round"/>
</g>
<g filter="url(#bh6)">
<rect x="943.5" y="1722.6" width="13.7" height="107.5" fill="#0070ff" stroke="#0070ff" stroke-width="54" stroke-linejoin="round"/>
<rect x="1040.5" y="1722.6" width="13.4" height="107.5" fill="#0070ff" stroke="#0070ff" stroke-width="54" stroke-linejoin="round"/>
<rect x="943.5" y="1722.6" width="110.4" height="13.3" fill="#0070ff" stroke="#0070ff" stroke-width="54" stroke-linejoin="round"/>
</g>
<g filter="url(#bh5)">
<rect x="943.5" y="1722.6" width="13.7" height="107.5" fill="#008cff" stroke="#008cff" stroke-width="40" stroke-linejoin="round"/>
<rect x="1040.5" y="1722.6" width="13.4" height="107.5" fill="#008cff" stroke="#008cff" stroke-width="40" stroke-linejoin="round"/>
</g>
<g filter="url(#bh4)">
<rect x="943.5" y="1722.6" width="13.7" height="107.5" fill="#00aaff" stroke="#00aaff" stroke-width="28" stroke-linejoin="round"/>
<rect x="1040.5" y="1722.6" width="13.4" height="107.5" fill="#00aaff" stroke="#00aaff" stroke-width="28" stroke-linejoin="round"/>
</g>
<g filter="url(#bh3)">
<rect x="943.5" y="1722.6" width="13.7" height="107.5" fill="#00d4ff" stroke="#00d4ff" stroke-width="16" stroke-linejoin="round"/>
<rect x="1040.5" y="1722.6" width="13.4" height="107.5" fill="#00d4ff" stroke="#00d4ff" stroke-width="16" stroke-linejoin="round"/>
</g>
<g filter="url(#bh2)">
<rect x="943.5" y="1722.6" width="13.7" height="107.5" fill="#00f8ff" stroke="#00f8ff" stroke-width="7" stroke-linejoin="round"/>
<rect x="1040.5" y="1722.6" width="13.4" height="107.5" fill="#00f8ff" stroke="#00f8ff" stroke-width="7" stroke-linejoin="round"/>
</g>
<g filter="url(#bh2)">
<rect x="945" y="1725.6" width="10.7" height="101.5" fill="#00ffd0"/>
<rect x="1042" y="1725.6" width="10.4" height="101.5" fill="#00ffd0"/>
</g>
<g filter="url(#bh3)">
<ellipse cx="950.35" cy="1816.1" rx="7.5" ry="18" fill="#20ff40"/>
<ellipse cx="1047.2" cy="1816.1" rx="7.5" ry="18" fill="#20ff40" opacity="0.6"/>
</g>
<g filter="url(#bh8)">
<rect x="943.5" y="1892.4" width="13.7" height="107.6" fill="#0058ff" stroke="#0058ff" stroke-width="70" stroke-linejoin="round"/>
<rect x="1040.5" y="1892.4" width="13.4" height="107.6" fill="#0058ff" stroke="#0058ff" stroke-width="70" stroke-linejoin="round"/>
<rect x="943.5" y="1986.9" width="110.4" height="13.1" fill="#0058ff" stroke="#0058ff" stroke-width="70" stroke-linejoin="round"/>
</g>
<g filter="url(#bh6)">
<rect x="943.5" y="1892.4" width="13.7" height="107.6" fill="#0070ff" stroke="#0070ff" stroke-width="54" stroke-linejoin="round"/>
<rect x="1040.5" y="1892.4" width="13.4" height="107.6" fill="#0070ff" stroke="#0070ff" stroke-width="54" stroke-linejoin="round"/>
<rect x="943.5" y="1986.9" width="110.4" height="13.1" fill="#0070ff" stroke="#0070ff" stroke-width="54" stroke-linejoin="round"/>
</g>
<g filter="url(#bh5)">
<rect x="943.5" y="1892.4" width="13.7" height="107.6" fill="#008cff" stroke="#008cff" stroke-width="40" stroke-linejoin="round"/>
<rect x="1040.5" y="1892.4" width="13.4" height="107.6" fill="#008cff" stroke="#008cff" stroke-width="40" stroke-linejoin="round"/>
</g>
<g filter="url(#bh4)">
<rect x="943.5" y="1892.4" width="13.7" height="107.6" fill="#00aaff" stroke="#00aaff" stroke-width="28" stroke-linejoin="round"/>
<rect x="1040.5" y="1892.4" width="13.4" height="107.6" fill="#00aaff" stroke="#00aaff" stroke-width="28" stroke-linejoin="round"/>
</g>
<g filter="url(#bh3)">
<rect x="943.5" y="1892.4" width="13.7" height="107.6" fill="#00d4ff" stroke="#00d4ff" stroke-width="16" stroke-linejoin="round"/>
<rect x="1040.5" y="1892.4" width="13.4" height="107.6" fill="#00d4ff" stroke="#00d4ff" stroke-width="16" stroke-linejoin="round"/>
</g>
<g filter="url(#bh2)">
<rect x="943.5" y="1892.4" width="13.7" height="107.6" fill="#00f8ff" stroke="#00f8ff" stroke-width="7" stroke-linejoin="round"/>
<rect x="1040.5" y="1892.4" width="13.4" height="107.6" fill="#00f8ff" stroke="#00f8ff" stroke-width="7" stroke-linejoin="round"/>
</g>
<g filter="url(#bh2)">
<rect x="945" y="1895.4" width="10.7" height="101.6" fill="#00ffd0"/>
<rect x="1042" y="1895.4" width="10.4" height="101.6" fill="#00ffd0"/>
</g>
<g filter="url(#bh3)">
<ellipse cx="950.35" cy="1906.4" rx="7.5" ry="18" fill="#20ff40"/>
<ellipse cx="1047.2" cy="1906.4" rx="7.5" ry="18" fill="#20ff40" opacity="0.5"/>
</g>
<g filter="url(#bh8)">
<ellipse cx="1000" cy="1762" rx="28" ry="22" fill="#0020ff" opacity="0.8"/>
<ellipse cx="998" cy="1960" rx="30" ry="22" fill="#0020ff" opacity="0.8"/>
<ellipse cx="998" cy="1862" rx="12" ry="12" fill="#0000ff"/>
<ellipse cx="960" cy="2040" rx="30" ry="16" fill="#0000ff"/>
</g>
<g filter="url(#bh6)">
<rect x="1084" y="1725" width="14" height="273" fill="#0048ff"/>
</g>
<g filter="url(#bh6)">
<polygon points="1130,1830.1 1130,1704 1258,1704 1258,1830.1 1245,1830.1 1245,1716.8 1143.8,1716.8 1143.8,1830.1" fill="none" stroke="#0040ff" stroke-width="16" stroke-linejoin="round"/>
<polygon points="1130,1830.1 1130,1704 1258,1704 1258,1830.1 1245,1830.1 1245,1716.8 1143.8,1716.8 1143.8,1830.1" fill="#0038ff"/>
</g>
<g filter="url(#bh6)">
<rect x="1147.8" y="1720.8" width="93.2" height="105.3" fill="#0000ff"/>
</g>
<g filter="url(#bh6)">
<ellipse cx="1136.9" cy="1830.1" rx="17" ry="17" fill="#0078ff" opacity="0.6"/>
<ellipse cx="1251.5" cy="1830.1" rx="17" ry="17" fill="#0078ff"/>
</g>
<g filter="url(#bh2)">
<ellipse cx="1136.9" cy="1830.1" rx="7" ry="5.25" fill="#00e0ff" opacity="0.6"/>
<ellipse cx="1251.5" cy="1830.1" rx="7" ry="5.25" fill="#00e0ff"/>
</g>
<g filter="url(#bh6)">
<polygon points="1130,1892.4 1130,2019.1 1258,2019.1 1258,1892.4 1245,1892.4 1245,2006.4 1143.8,2006.4 1143.8,1892.4" fill="none" stroke="#0040ff" stroke-width="16" stroke-linejoin="round"/>
<polygon points="1130,1892.4 1130,2019.1 1258,2019.1 1258,1892.4 1245,1892.4 1245,2006.4 1143.8,2006.4 1143.8,1892.4" fill="#0038ff"/>
</g>
<g filter="url(#bh6)">
<rect x="1147.8" y="1896.4" width="93.2" height="106" fill="#0000ff"/>
</g>
<g filter="url(#bh6)">
<ellipse cx="1136.9" cy="1892.4" rx="17" ry="17" fill="#0078ff" opacity="0.7"/>
<ellipse cx="1251.5" cy="1892.4" rx="17" ry="17" fill="#0078ff"/>
</g>
<g filter="url(#bh2)">
<ellipse cx="1136.9" cy="1892.4" rx="7" ry="5.25" fill="#00e0ff" opacity="0.7"/>
<ellipse cx="1251.5" cy="1892.4" rx="7" ry="5.25" fill="#00e0ff"/>
</g>
<path d="M943.5,1830.1 L943.5,1722.6 L1053.9,1722.6 L1053.9,1830.1 L1040.5,1830.1 L1040.5,1735.9 L957.2,1735.9 L957.2,1830.1 Z" fill="none" stroke="#000" stroke-width="1.4" stroke-dasharray="40 2.5"/>
<path d="M943.5,1892.4 L943.5,2000 L1053.9,2000 L1053.9,1892.4 L1040.5,1892.4 L1040.5,1986.9 L957.2,1986.9 L957.2,1892.4 Z" fill="none" stroke="#000" stroke-width="1.4" stroke-dasharray="40 2.5"/>
<path d="M1130,1830.1 L1130,1704 L1258,1704 L1258,1830.1 L1245,1830.1 L1245,1716.8 L1143.8,1716.8 L1143.8,1830.1 Z" fill="none" stroke="#000" stroke-width="1.4" stroke-dasharray="40 2.5"/>
<path d="M1130,1892.4 L1130,2019.1 L1258,2019.1 L1258,1892.4 L1245,1892.4 L1245,2006.4 L1143.8,2006.4 L1143.8,1892.4 Z" fill="none" stroke="#000" stroke-width="1.4" stroke-dasharray="40 2.5"/>
<path d="M1084.6,1722.6 L1097.6,1722.6 L1097.6,2000 L1084.6,2000 Z" fill="none" stroke="#000" stroke-width="1.4" stroke-dasharray="40 2.5"/>
</g>
<rect x="902.7" y="1663.1" width="398.3" height="400.2" fill="none" stroke="#000" stroke-width="2.2"/>
<text x="1059.5" y="1700" font-size="46.3" fill="#fff">f =0.85 THz</text>
<path d="M929.4,2041 H999.8" stroke="#ff0000" stroke-width="5" stroke-linecap="round"/>
<polygon points="996.4,2027.5 1019.8,2041 996.4,2054.5" fill="#ff0000"/>
<path d="M929.4,2041 V1972.6" stroke="#00e400" stroke-width="5" stroke-linecap="round"/>
<polygon points="915.4,1976.1 929.4,1952.6 943.4,1976.1" fill="#00e400"/>
<text x="914.35" y="1932.37" font-size="45.5" fill="#fff" >y</text>
<text x="1018.49" y="2046.2" font-size="45.5" fill="#fff" >x</text>
<text transform="scale(0.78,1)" x="182.69" y="35.5" font-size="52.5">1</text>
<text x="100.54" y="126.28" font-size="51.5" fill="#000" >0.8</text>
<text x="96.44" y="235.79" font-size="51.5" fill="#000" >0.6</text>
<text x="96.44" y="336.19" font-size="51.5" fill="#000" >0.4</text>
<text x="95.64" y="448.79" font-size="51.5" fill="#000" >0.2</text>
<text x="133.14" y="533.28" font-size="51.5" fill="#000" >0</text>
<text transform="scale(0.78,1)" x="175.12" y="582.5" font-size="52.5">1</text>
<text x="99.74" y="663.49" font-size="51.5" fill="#000" >0.8</text>
<text x="96.44" y="773.28" font-size="51.5" fill="#000" >0.6</text>
<text x="95.24" y="872.88" font-size="51.5" fill="#000" >0.4</text>
<text x="95.24" y="985.28" font-size="51.5" fill="#000" >0.2</text>
<text x="138.24" y="1070.78" font-size="51.5" fill="#000" >0</text>
<text transform="scale(0.78,1)" x="173.33" y="1107.7" font-size="52.5">1</text>
<text x="98.84" y="1185.58" font-size="51.5" fill="#000" >0.8</text>
<text x="94.74" y="1294.08" font-size="51.5" fill="#000" >0.6</text>
<text x="93.94" y="1403.48" font-size="51.5" fill="#000" >0.4</text>
<text x="93.94" y="1502.68" font-size="51.5" fill="#000" >0.2</text>
<text x="139.24" y="1594.48" font-size="51.5" fill="#000" >0</text>
<text transform="scale(0.78,1)" x="177.94" y="1637.2" font-size="52.5">1</text>
<text x="97.64" y="1714.08" font-size="51.5" fill="#000" >0.8</text>
<text x="93.24" y="1823.48" font-size="51.5" fill="#000" >0.6</text>
<text x="92.74" y="1923.88" font-size="51.5" fill="#000" >0.4</text>
<text x="92.74" y="2036.58" font-size="51.5" fill="#000" >0.2</text>
<text x="116.04" y="2130.79" font-size="51.5" fill="#000" >0</text>
<text x="139.64" y="2175.29" font-size="51.5" fill="#000" >0.4</text>
<text x="299.34" y="2175.29" font-size="51.5" fill="#000" >0.6</text>
<text x="455.24" y="2175.49" font-size="51.5" fill="#000" >0.8</text>
<text x="757.67" y="2175.5" font-size="51.5" fill="#000" >1.2</text>
<text transform="scale(0.78,1)" x="814.61" y="2175.5" font-size="52.5">1</text>
<text x="216.73" y="117.03" font-size="51.5" fill="#000" >(a)</text>
<text x="212.13" y="644.53" font-size="51.5" fill="#000" >(b)</text>
<text x="216.63" y="1157.83" font-size="51.5" fill="#000" >(c)</text>
<text x="216.83" y="1737.53" font-size="51.5" fill="#000" >(d)</text>
<text x="822.73" y="117.53" font-size="51.5" fill="#000" >(e)</text>
<text x="822.73" y="634.73" font-size="51.5" fill="#000" >(f)</text>
<text x="822.73" y="1148.43" font-size="51.5" fill="#000" >(g)</text>
<text x="826.53" y="1733.03" font-size="51.5" fill="#000" >(h)</text>
<text x="278.59" y="499.03" font-size="51.5" fill="#000" >CW</text>
<text x="276.27" y="1024.28" font-size="51.5" fill="#000" >Two DCRs</text>
<text x="277.51" y="1546.98" font-size="51.5" fill="#000" >Dual EIT</text>
<text x="273.41" y="2076.49" font-size="51.5" fill="#000" >Dual EIT</text>
<text x="272.81" y="2272.9" font-size="65" fill="#000" >Frequency (THz)</text>
<text transform="translate(46,1255.7) rotate(-90)" x="-1.19" y="0" font-size="66" textLength="375" lengthAdjust="spacing">Transmission</text>
<defs><linearGradient id="jet" x1="0" x2="1" y1="0" y2="0"><stop offset="0" stop-color="#0010ff"/><stop offset="0.12" stop-color="#0070ff"/><stop offset="0.25" stop-color="#00ffff"/><stop offset="0.37" stop-color="#00ffc0"/><stop offset="0.5" stop-color="#00ee10"/><stop offset="0.62" stop-color="#90ff00"/><stop offset="0.76" stop-color="#ffff00"/><stop offset="0.88" stop-color="#ff9000"/><stop offset="1" stop-color="#ff1000"/></linearGradient></defs>
<rect x="945.1" y="2160.7" width="282.9" height="32.6" fill="url(#jet)"/>
<text x="841.37" y="2195.9" font-size="52.4" fill="#000" >Min</text>
<text x="1246.78" y="2195.39" font-size="51.3" fill="#000" >Max</text>
<clipPath id="cl"><rect x="182" y="22" width="620" height="2100"/></clipPath>
<g clip-path="url(#cl)" fill="none" stroke-linejoin="round" stroke-linecap="butt">
<path d="M184,70 C191.25,69.18 213.52,66.07 227.5,65.1 C241.48,64.13 254.03,64 267.9,64.2 C281.77,64.4 297.63,65.27 310.7,66.3 C323.77,67.33 332.45,68.62 346.3,70.4 C360.15,72.18 379.93,74.78 393.8,77 C407.67,79.22 419.6,81.32 429.5,83.7 C439.4,86.08 446.45,88.83 453.2,91.3 C459.95,93.77 465.53,96.2 470,98.5 C474.47,100.8 476.35,102.22 480,105.1 C483.65,107.98 487.93,111.05 491.9,115.8 C495.87,120.55 500.23,126.67 503.8,133.6 C507.37,140.53 510.6,149.87 513.3,157.4 C516,164.93 518.13,171.7 520,178.8 C521.87,185.9 522.82,190.57 524.5,200 C526.18,209.43 528.38,223.58 530.1,235.4 C531.82,247.22 533.32,259.08 534.8,270.9 C536.28,282.72 537.52,294.5 539,306.3 C540.48,318.1 542.23,329.88 543.7,341.7 C545.17,353.52 546.42,365.38 547.8,377.2 C549.18,389.02 550.92,402.47 552,412.6 C553.08,422.73 553.58,432.1 554.3,438 C555.02,443.9 555.97,446.33 556.3,448 C556.83,446.33 558.25,445.87 559.5,438 C560.75,430.13 562.6,412.92 563.8,400.8 C565,388.68 565.72,377.12 566.7,365.3 C567.68,353.48 568.72,341.7 569.7,329.9 C570.68,318.1 571.42,306.32 572.6,294.5 C573.78,282.68 575.12,271.13 576.8,259 C578.48,246.87 581.02,233.08 582.7,221.7 C584.38,210.32 585.22,200.23 586.9,190.7 C588.58,181.17 590.42,172.82 592.8,164.5 C595.18,156.18 598.62,147.92 601.2,140.8 C603.78,133.68 606.57,126.68 608.3,121.8 C610.03,116.92 610.68,113.7 611.6,111.5 C612.52,109.3 612.98,108.77 613.8,108.6 C614.62,108.43 615.55,109.52 616.5,110.5 C617.45,111.48 618.42,113.15 619.5,114.5 C620.58,115.85 621.3,117.28 623,118.6 C624.7,119.92 626.67,121.5 629.7,122.4 C632.73,123.3 635.77,124.02 641.2,124 C646.63,123.98 651.73,123.63 662.3,122.3 C672.87,120.97 690.48,118 704.6,116 C718.72,114 730.93,112.05 747,110.3 C763.07,108.55 792,106.3 801,105.5" stroke="#ff0000" stroke-width="5.8"/>
<path d="M185,585 C196.05,585.5 228.38,587.02 251.3,588 C274.22,588.98 298.75,589.9 322.5,590.9 C346.25,591.9 374.22,592.9 393.8,594 C413.38,595.1 425.63,596.17 440,597.5 C454.37,598.83 467.22,600.83 480,602 C492.78,603.17 506.7,603.58 516.7,604.5 C526.7,605.42 534.12,606.42 540,607.5 C545.88,608.58 548.83,609.83 552,611 C555.17,612.17 556.92,613.25 559,614.5 C561.08,615.75 563.58,617.83 564.5,618.5 C565.25,617.83 567.58,615.42 569,614.5 C570.42,613.58 571.5,613.25 573,613 C574.5,612.75 573.5,612.42 578,613 C582.5,613.58 594,615.42 600,616.5 C606,617.58 609.83,617.83 614,619.5 C618.17,621.17 619.53,623.77 625,626.5 C630.47,629.23 639.27,632.78 646.8,635.9 C654.33,639.02 662.42,642.08 670.2,645.2 C677.98,648.32 687.02,651.87 693.5,654.6 C699.98,657.33 702.6,658.62 709.1,661.6 C715.6,664.58 724.7,668.6 732.5,672.5 C740.3,676.4 748.1,680.72 755.9,685 C763.7,689.28 771.73,693.57 779.3,698.2 C786.87,702.83 797.63,710.37 801.3,712.8" stroke="#0000ff" stroke-width="6"/>
<path d="M184,1100.2 C191.25,1100.6 212.33,1101.68 227.5,1102.6 C242.67,1103.52 259.17,1104.12 275,1105.7 C290.83,1107.28 310.62,1109.85 322.5,1112.1 C334.38,1114.35 340.05,1116.7 346.3,1119.2 C352.55,1121.7 356.27,1124.77 360,1127.1 C363.73,1129.43 365.78,1130.72 368.7,1133.2 C371.62,1135.68 374.87,1138.8 377.5,1142 C380.13,1145.2 382.47,1148.47 384.5,1152.4 C386.53,1156.33 387.95,1160.5 389.7,1165.6 C391.45,1170.7 393.4,1177.18 395,1183 C396.6,1188.82 398,1193.93 399.3,1200.5 C400.6,1207.07 401.63,1214.38 402.8,1222.4 C403.97,1230.42 405.27,1239.87 406.3,1248.6 C407.33,1257.33 408.2,1266.23 409,1274.8 C409.8,1283.37 410.45,1290.22 411.1,1300 C411.75,1309.78 412.07,1319.02 412.9,1333.5 C413.73,1347.98 415.12,1369.08 416.1,1386.9 C417.08,1404.72 417.92,1425.3 418.8,1440.4 C419.68,1455.5 420.97,1471.32 421.4,1477.5 C421.77,1472.08 422.82,1460.1 423.6,1445 C424.38,1429.9 425.28,1405.48 426.1,1386.9 C426.92,1368.32 427.72,1352.18 428.5,1333.5 C429.28,1314.82 430.12,1290.4 430.8,1274.8 C431.48,1259.2 432.02,1251.55 432.6,1239.9 C433.18,1228.25 433.58,1216.57 434.3,1204.9 C435.02,1193.23 435.88,1180.1 436.9,1169.9 C437.92,1159.7 439.08,1150.55 440.4,1143.7 C441.72,1136.85 443.05,1132.58 444.8,1128.8 C446.55,1125.02 448.58,1122.6 450.9,1121 C453.22,1119.4 455.62,1118.77 458.7,1119.2 C461.78,1119.63 466.28,1121.6 469.4,1123.6 C472.52,1125.6 474.88,1128 477.4,1131.2 C479.92,1134.4 482.42,1138.35 484.5,1142.8 C486.58,1147.25 488.27,1152.42 489.9,1157.9 C491.53,1163.38 492.97,1169.02 494.3,1175.7 C495.63,1182.38 496.85,1190.57 497.9,1198 C498.95,1205.43 499.7,1212.13 500.6,1220.3 C501.5,1228.47 502.42,1237.35 503.3,1247 C504.18,1256.65 505.15,1263.78 505.9,1278.2 C506.65,1292.62 506.95,1315.38 507.8,1333.5 C508.65,1351.62 509.8,1369.4 511,1386.9 C512.2,1404.4 514.33,1429.9 515,1438.5 C515.38,1432.08 516.58,1414.75 517.3,1400 C518.02,1385.25 518.72,1366.67 519.3,1350 C519.88,1333.33 520.2,1316.43 520.8,1300 C521.4,1283.57 522.12,1266.92 522.9,1251.4 C523.68,1235.88 524.47,1220.25 525.5,1206.9 C526.53,1193.55 527.9,1181.7 529.1,1171.3 C530.3,1160.9 531.22,1152.22 532.7,1144.5 C534.18,1136.78 535.93,1129.6 538,1125 C540.07,1120.4 542.43,1118.77 545.1,1116.9 C547.77,1115.03 551.02,1114.18 554,1113.8 C556.98,1113.42 559.8,1113.62 563,1114.6 C566.2,1115.58 568.33,1116.87 573.2,1119.7 C578.07,1122.53 586.27,1126.25 592.2,1131.6 C598.13,1136.95 605.08,1146.48 608.8,1151.8 C612.52,1157.12 613.13,1160.47 614.5,1163.5 C615.87,1166.53 616.58,1168.92 617,1170 C617.33,1171.33 616.4,1169.17 619,1178 C621.6,1186.83 627.17,1202.03 632.6,1223 C638.03,1243.97 646.07,1279.25 651.6,1303.8 C657.13,1328.35 662.32,1355.93 665.8,1370.3 C669.28,1384.67 670.52,1385.3 672.5,1390 C674.48,1394.7 675.95,1398.5 677.7,1398.5 C679.45,1398.5 681.02,1394.7 683,1390 C684.98,1385.3 686.13,1384.67 689.6,1370.3 C693.07,1355.93 699.05,1323.58 703.8,1303.8 C708.55,1284.02 712.95,1267.43 718.1,1251.6 C723.25,1235.77 729.17,1220.68 734.7,1208.8 C740.23,1196.92 744.57,1188.82 751.3,1180.3 C758.03,1171.78 766.82,1163.5 775.1,1157.7 C783.38,1151.9 796.68,1147.53 801,1145.5" stroke="#008c5a" stroke-width="5.5"/>
<path d="M184,1668 C191.25,1668.28 212.33,1668.82 227.5,1669.7 C242.67,1670.58 259.17,1671.52 275,1673.3 C290.83,1675.08 310.62,1678.03 322.5,1680.4 C334.38,1682.77 340.05,1685.08 346.3,1687.5 C352.55,1689.92 356.27,1692.65 360,1694.9 C363.73,1697.15 365.78,1698.38 368.7,1701 C371.62,1703.62 374.87,1707.25 377.5,1710.6 C380.13,1713.95 382.47,1717.47 384.5,1721.1 C386.53,1724.73 387.95,1727.88 389.7,1732.4 C391.45,1736.92 393.4,1742.95 395,1748.2 C396.6,1753.45 398,1758.52 399.3,1763.9 C400.6,1769.28 401.63,1773.37 402.8,1780.5 C403.97,1787.63 405.27,1797.95 406.3,1806.7 C407.33,1815.45 408.12,1824.25 409,1833 C409.88,1841.75 410.8,1848.03 411.6,1859.2 C412.4,1870.37 413.05,1885.38 413.8,1900 C414.55,1914.62 415.2,1930.23 416.1,1946.9 C417,1963.57 418.2,1983.57 419.2,2000 C420.2,2016.43 421.62,2037.92 422.1,2045.5 C422.5,2037.92 423.62,2016.43 424.5,2000 C425.38,1983.57 426.55,1963.57 427.4,1946.9 C428.25,1930.23 428.97,1915.35 429.6,1900 C430.23,1884.65 430.7,1867.43 431.2,1854.8 C431.7,1842.17 432.08,1835.85 432.6,1824.2 C433.12,1812.55 433.58,1797.28 434.3,1784.9 C435.02,1772.52 435.88,1760.83 436.9,1749.9 C437.92,1738.97 439.08,1727.6 440.4,1719.3 C441.72,1711 443.05,1704.9 444.8,1700.1 C446.55,1695.3 448.43,1692.65 450.9,1690.5 C453.37,1688.35 456.37,1686.93 459.6,1687.2 C462.83,1687.47 467.18,1689.8 470.3,1692.1 C473.42,1694.4 475.93,1697.73 478.3,1701 C480.67,1704.27 482.57,1707.4 484.5,1711.7 C486.43,1716 488.27,1721.32 489.9,1726.8 C491.53,1732.28 492.97,1737.92 494.3,1744.6 C495.63,1751.28 496.7,1758.73 497.9,1766.9 C499.1,1775.07 500.47,1784.68 501.5,1793.6 C502.53,1802.52 503.22,1810.75 504.1,1820.4 C504.98,1830.05 505.93,1838.23 506.8,1851.5 C507.67,1864.77 508.5,1884.1 509.3,1900 C510.1,1915.9 510.55,1929.23 511.6,1946.9 C512.65,1964.57 514.93,1996.15 515.6,2006 C516.17,1996.15 518.17,1964.57 519,1946.9 C519.83,1929.23 520.1,1915.9 520.6,1900 C521.1,1884.1 521.4,1866.27 522,1851.5 C522.6,1836.73 523.38,1825.5 524.2,1811.4 C525.02,1797.3 525.93,1779.52 526.9,1766.9 C527.87,1754.28 528.9,1744.9 530,1735.7 C531.1,1726.5 532.17,1718.38 533.5,1711.7 C534.83,1705.02 536.07,1699.92 538,1695.6 C539.93,1691.28 542.13,1688.1 545.1,1685.8 C548.07,1683.5 550.73,1681.43 555.8,1681.8 C560.87,1682.17 569.05,1684.98 575.5,1688 C581.95,1691.02 588.95,1694.95 594.5,1699.9 C600.05,1704.85 605.38,1712.68 608.8,1717.7 C612.22,1722.72 613.55,1726.95 615,1730 C616.45,1733.05 617.08,1735 617.5,1736 C617.83,1737.5 616.98,1736.37 619.5,1745 C622.02,1753.63 627.25,1767.2 632.6,1787.8 C637.95,1808.4 646.07,1844.05 651.6,1868.6 C657.13,1893.15 662.23,1920.2 665.8,1935.1 C669.37,1950 670.82,1952.85 673,1958 C675.18,1963.15 676.9,1966 678.9,1966 C680.9,1966 682.83,1963.15 685,1958 C687.17,1952.85 688.77,1948.42 691.9,1935.1 C695.03,1921.78 699.03,1897.9 703.8,1878.1 C708.57,1858.3 714.95,1833.33 720.5,1816.3 C726.05,1799.27 731.97,1786.58 737.1,1775.9 C742.23,1765.22 744.97,1760.32 751.3,1752.2 C757.63,1744.08 766.82,1733.57 775.1,1727.2 C783.38,1720.83 796.68,1716.2 801,1714" stroke="#008c5a" stroke-width="5.5"/>
</g>
<path d="M558.5,24.8 V46.1 M558.5,69.28 V92.38 M558.5,115.56 V138.66 M558.5,161.84 V184.94 M558.5,208.12 V231.22 M558.5,254.4 V277.5 M558.5,300.68 V323.78 M558.5,346.96 V370.06 M558.5,393.24 V416.34 M558.5,439.52 V462.62 M558.5,485.8 V508.9 M558.5,532.08 V555.18 M558.5,578.36 V601.46 M558.5,624.64 V647.74 M558.5,670.92 V694.02 M558.5,717.2 V740.3 M558.5,763.48 V786.58 M558.5,809.76 V832.86 M558.5,856.04 V879.14 M558.5,902.32 V925.42 M558.5,948.6 V971.7 M558.5,994.88 V1017.98 M558.5,1041.16 V1064.26 " stroke="#000" stroke-width="4.9" fill="none"/>
<path d="M459,1078.3 V1101.4 M459,1124.58 V1147.68 M459,1170.86 V1193.96 M459,1217.14 V1240.24 M459,1263.42 V1286.52 M459,1309.7 V1332.8 M459,1355.98 V1379.08 M459,1402.26 V1425.36 M459,1448.54 V1471.64 M459,1494.82 V1517.92 M459,1541.1 V1564.2 M459,1587.38 V1592.2 " stroke="#000" stroke-width="4.9" fill="none"/>
<path d="M560.1,1596.8 V1617.3 M560.1,1640.48 V1663.58 M560.1,1686.76 V1709.86 M560.1,1733.04 V1756.14 M560.1,1779.32 V1802.42 M560.1,1825.6 V1848.7 M560.1,1871.88 V1894.98 M560.1,1918.16 V1941.26 M560.1,1964.44 V1987.54 M560.1,2010.72 V2033.82 M560.1,2057 V2080.1 M560.1,2103.28 V2120.2 " stroke="#000" stroke-width="4.9" fill="none"/>
<path d="M229.5,484.4 H259.2" stroke="#ff0000" stroke-width="7" stroke-linecap="round"/>
<path d="M231.8,1007.6 H261" stroke="#0000ff" stroke-width="7.5" stroke-linecap="round"/>
<path d="M230,1530.7 H259.5" stroke="#00a24c" stroke-width="5" stroke-linecap="round"/>
<path d="M230,2059.6 H259.4" stroke="#00a24c" stroke-width="5.4" stroke-linecap="round"/>
<rect x="183.2" y="543" width="616.3" height="528" fill="none" stroke="#008c5a" stroke-width="5.6"/>
<rect x="180.5" y="20.8" width="1166.5" height="4.05" fill="#000"/>
<rect x="180.5" y="541" width="1166.5" height="4" fill="#000"/>
<rect x="180.5" y="1069" width="1166.5" height="4" fill="#000"/>
<rect x="180.5" y="1592.2" width="1166.5" height="4.6" fill="#000"/>
<rect x="180.5" y="2120.2" width="1166.5" height="4.4" fill="#000"/>
<rect x="180.5" y="20.8" width="4.1" height="2103.8" fill="#000"/>
<rect x="799.1" y="20.8" width="4.4" height="2103.8" fill="#000"/>
<rect x="1343.1" y="20.8" width="3.9" height="2103.8" fill="#000"/>
<path d="M184,120 H197.6 M184,224.2 H197.6 M184,329.1 H197.6 M184,433.4 H197.6 M184,647.8 H197.6 M184,752.3 H197.6 M184,857.2 H197.6 M184,961.6 H197.6 M184,1171.3 H197.6 M184,1275.5 H197.6 M184,1380.3 H197.6 M184,1484.8 H197.6 M184,1704.1 H197.6 M184,1808.6 H197.6 M184,1912.9 H197.6 M184,2017.5 H197.6 M339,524.2 V541.5 M493.6,524.2 V541.5 M648.7,524.2 V541.5 M336.6,1056.2 V1072.5 M491,1056.2 V1072.5 M646.1,1056.2 V1072.5 M336.6,1577.7 V1593 M491,1577.7 V1593 M646.1,1577.7 V1593 M336.6,2105.7 V2121 M491,2105.7 V2121 M646.1,2105.7 V2121 " stroke="#000" stroke-width="4.4" stroke-linecap="round" fill="none"/>
<path d="M794,708.2 L801.3,712.8" stroke="#0000ff" stroke-width="6" stroke-linecap="round"/>
</svg></body></html>
